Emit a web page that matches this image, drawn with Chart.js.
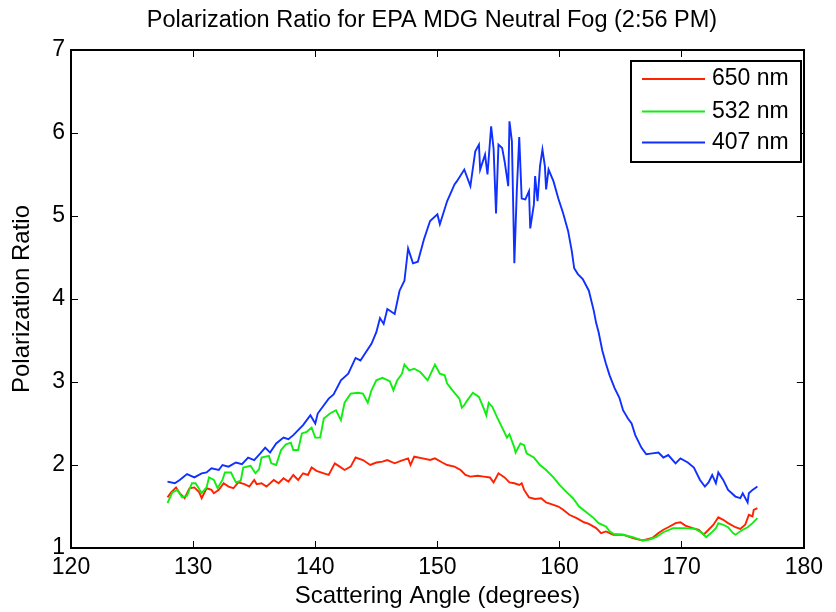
<!DOCTYPE html>
<html><head><meta charset="utf-8">
<script src="https://cdn.jsdelivr.net/npm/chart.js@4.4.0/dist/chart.umd.min.js"></script>
<style>html,body{margin:0;padding:0;background:#fff}canvas{display:block}</style>
</head><body>
<canvas id="c" width="836" height="612"></canvas>
<script>
// ---- data ----
const redAngle = [
127.9,128.2,128.6,128.9,129.3,129.7,130.1,130.5,130.7,131.1,
131.5,131.7,132.1,132.5,132.9,133.3,133.7,134.2,134.6,135.0,
135.2,135.6,136.0,136.6,137.0,137.4,137.8,138.2,138.6,139.0,
139.4,139.7,140.1,140.7,141.1,141.6,142.0,142.4,142.9,143.3,
143.9,144.5,145.0,145.5,145.9,146.5,147.0,147.6,147.8,148.1,
148.8,149.4,149.8,150.4,150.8,151.4,151.9,152.3,152.7,153.3,
153.8,154.3,154.6,155.0,155.5,155.9,156.3,156.7,156.9,157.1,
157.5,158.0,158.5,158.9,159.5,159.9,160.3,160.8,161.4,162.0,
162.4,163.0,163.4,163.8,164.1,164.4,165.2,166.0,166.8,167.6,
168.1,168.5,168.9,169.5,169.9,170.3,170.9,171.4,171.8,172.2,
172.6,173.0,173.4,173.8,174.4,174.8,175.2,175.5,175.8,175.9,176.2];
const redValue = [
1.61,1.67,1.73,1.66,1.60,1.72,1.73,1.67,1.60,1.72,
1.70,1.66,1.70,1.78,1.74,1.72,1.79,1.77,1.74,1.82,
1.77,1.78,1.74,1.82,1.78,1.84,1.80,1.88,1.82,1.90,
1.88,1.97,1.93,1.90,1.88,2.02,1.98,1.94,1.98,2.09,
2.06,2.00,2.03,2.04,2.06,2.02,2.05,2.08,2.00,2.10,
2.08,2.06,2.08,2.03,2.00,1.98,1.94,1.88,1.86,1.87,
1.86,1.85,1.79,1.90,1.85,1.79,1.78,1.76,1.78,1.70,
1.61,1.59,1.60,1.55,1.52,1.50,1.46,1.40,1.36,1.31,
1.29,1.24,1.18,1.20,1.18,1.16,1.16,1.12,1.09,1.12,
1.18,1.22,1.25,1.30,1.31,1.27,1.24,1.22,1.16,1.22,
1.28,1.37,1.34,1.30,1.25,1.23,1.28,1.40,1.38,1.46,1.48];

const greenAngle = [
127.9,128.3,128.7,129.1,129.5,129.9,130.2,130.7,131.1,131.3,
131.7,132.0,132.4,132.6,133.1,133.5,133.9,134.1,134.7,135.1,
135.4,135.6,136.2,136.4,136.8,137.2,137.6,138.0,138.2,138.6,
138.9,139.3,139.7,140.0,140.4,140.7,141.2,141.7,142.1,142.4,
142.9,143.5,143.9,144.3,144.6,145.0,145.5,146.1,146.4,146.7,
147.1,147.3,147.7,148.1,148.6,149.2,149.8,150.2,150.6,150.8,
151.4,151.8,152.0,152.2,152.4,152.9,153.4,153.8,154.0,154.2,
154.5,154.9,155.3,155.7,155.9,156.3,156.4,156.8,157.1,157.3,
157.9,158.4,158.9,159.5,160.0,160.6,161.1,161.6,162.2,162.8,
163.2,163.8,164.1,164.4,165.2,166.0,166.8,167.3,167.9,168.5,
169.3,170.3,171.1,171.7,172.0,172.4,172.8,173.0,173.4,173.8,
174.2,174.4,175.0,175.4,175.8,176.2];
const greenValue = [
1.54,1.67,1.70,1.61,1.63,1.78,1.78,1.66,1.73,1.85,
1.82,1.72,1.82,1.91,1.91,1.79,1.81,1.97,1.99,1.90,
1.95,2.09,2.11,2.02,2.00,2.18,2.25,2.27,2.18,2.18,
2.38,2.40,2.45,2.33,2.33,2.56,2.62,2.66,2.54,2.75,
2.86,2.87,2.86,2.75,2.90,3.02,3.05,3.01,2.90,3.02,
3.10,3.21,3.14,3.16,3.12,3.02,3.21,3.10,3.08,2.98,
2.87,2.80,2.69,2.72,2.77,2.87,2.82,2.68,2.60,2.75,
2.70,2.57,2.45,2.33,2.37,2.21,2.15,2.26,2.24,2.14,
2.09,2.00,1.94,1.85,1.76,1.67,1.60,1.50,1.43,1.36,
1.30,1.26,1.20,1.17,1.16,1.13,1.09,1.10,1.13,1.19,
1.24,1.24,1.23,1.18,1.13,1.18,1.24,1.30,1.28,1.25,
1.18,1.16,1.22,1.25,1.30,1.36];

const blueAngle = [
127.9,128.5,128.9,129.5,130.1,130.7,131.1,131.5,132.1,132.4,
132.9,133.5,134.0,134.5,135.0,135.5,135.9,136.3,136.8,137.4,
137.8,138.2,138.6,139.0,139.6,140.0,140.2,140.7,141.1,141.5,
142.1,142.7,143.3,143.7,144.1,144.6,145.0,145.3,145.6,145.9,
146.5,146.9,147.3,147.6,148.0,148.4,148.9,149.4,150.0,150.2,
150.8,151.4,151.6,152.2,152.7,153.1,153.4,153.5,153.9,154.1,
154.4,154.6,154.8,155.0,155.3,155.5,155.8,155.9,156.1,156.3,
156.5,156.7,156.9,157.2,157.5,157.6,157.9,158.0,158.2,158.4,
158.6,158.8,158.9,159.1,159.5,159.9,160.3,160.7,161.0,161.2,
161.5,161.9,162.4,162.8,163.0,163.2,163.5,163.8,164.1,164.5,
164.9,165.2,165.6,165.9,166.2,166.7,167.1,167.6,168.1,168.5,
168.9,169.5,169.9,170.5,171.0,171.5,171.9,172.2,172.5,172.8,
173.0,173.4,173.8,174.4,174.8,175.0,175.4,175.5,175.8,176.2];
const blueValue = [
1.80,1.78,1.82,1.89,1.85,1.90,1.91,1.96,1.94,2.00,
1.98,2.03,2.01,2.09,2.06,2.14,2.21,2.15,2.26,2.33,
2.31,2.36,2.42,2.48,2.60,2.50,2.62,2.72,2.80,2.85,
3.02,3.10,3.29,3.26,3.35,3.46,3.60,3.77,3.70,3.88,
3.82,4.10,4.22,4.61,4.43,4.45,4.72,4.94,5.02,4.90,
5.18,5.38,5.42,5.56,5.36,5.78,5.86,5.56,5.74,5.50,
6.08,5.81,5.03,5.86,5.82,5.66,5.36,6.14,5.90,4.43,
5.30,5.95,5.21,5.20,5.30,4.85,5.14,5.48,5.18,5.60,
5.80,5.60,5.32,5.56,5.42,5.21,5.03,4.82,4.58,4.37,
4.30,4.24,4.10,3.86,3.71,3.60,3.38,3.22,3.08,2.93,
2.81,2.66,2.56,2.50,2.36,2.21,2.13,2.14,2.15,2.09,
2.12,2.02,2.08,2.03,1.97,1.82,1.74,1.79,1.88,1.78,
1.91,1.82,1.70,1.62,1.60,1.66,1.55,1.66,1.70,1.74];

const seriesLabels = ['650 nm', '532 nm', '407 nm'];
const xTickValues = [120, 130, 140, 150, 160, 170, 180];
const yTickValues = [1, 2, 3, 4, 5, 6, 7];
const chartTitle = 'Polarization Ratio for EPA MDG Neutral Fog (2:56 PM)';
const xTitle = 'Scattering Angle (degrees)';
const yTitle = 'Polarization Ratio';

// ---- styling ----
const FONT = "'Liberation Sans', Arial, Helvetica, sans-serif";
const COLORS = ['#ff2200', '#10ee10', '#1030ff'];
const BLACK = '#000000';

function pts(a, v) { return a.map((x, i) => ({ x: x, y: v[i] })); }

const boxedLegend = {
  id: 'boxedLegend',
  afterDraw(chart) {
    const ctx = chart.ctx;
    const L = 631, T = 61, W = 170, H = 101;
    ctx.save();
    ctx.fillStyle = '#ffffff';
    ctx.fillRect(L, T, W, H);
    ctx.lineWidth = 2;
    ctx.strokeStyle = BLACK;
    ctx.strokeRect(L, T, W, H);
    const rows = [79, 111.5, 142.5];
    chart.data.datasets.forEach((ds, i) => {
      const y = rows[i];
      ctx.strokeStyle = ds.borderColor;
      ctx.lineWidth = 1.8;
      ctx.beginPath(); ctx.moveTo(642, y); ctx.lineTo(705, y); ctx.stroke();
      ctx.fillStyle = BLACK;
      ctx.font = '23px ' + FONT;
      ctx.textAlign = 'left';
      ctx.textBaseline = 'middle';
      ctx.fillText(ds.label, 712, y);
    });
    ctx.restore();
  }
};

const tickGrid = { drawOnChartArea: false, drawTicks: true, tickLength: -7, color: BLACK, lineWidth: 1 };
const axisBorder = { display: true, color: BLACK, width: 2 };

new Chart(document.getElementById('c'), {
  type: 'line',
  data: {
    datasets: [
      { label: seriesLabels[0], data: pts(redAngle, redValue), borderColor: COLORS[0], order: 3 },
      { label: seriesLabels[1], data: pts(greenAngle, greenValue), borderColor: COLORS[1], order: 2 },
      { label: seriesLabels[2], data: pts(blueAngle, blueValue), borderColor: COLORS[2], order: 1 }
    ]
  },
  options: {
    responsive: false,
    animation: false,
    devicePixelRatio: 1,
    layout: { padding: { left: 28, right: 0, top: 0, bottom: 0 } },
    elements: {
      line: { borderWidth: 1.9, tension: 0, fill: false },
      point: { radius: 0, hoverRadius: 0 }
    },
    plugins: {
      legend: { display: false },
      tooltip: { enabled: false },
      title: {
        display: true, text: chartTitle, color: BLACK,
        font: { family: FONT, size: 23.5, weight: 'normal' },
        padding: { top: 6, bottom: 15.8 }
      }
    },
    scales: {
      x: {
        type: 'linear', position: 'bottom', min: 120, max: 180,
        afterBuildTicks: s => { s.ticks = xTickValues.map(v => ({ value: v })); },
        ticks: { color: BLACK, font: { family: FONT, size: 23 }, padding: 13, maxRotation: 0, autoSkip: false },
        grid: tickGrid, border: axisBorder,
        title: { display: true, text: xTitle, color: BLACK, font: { family: FONT, size: 24 }, padding: { top: 0, bottom: 1.6 } },
        afterFit: s => { s.height = 64; }
      },
      x2: {
        type: 'linear', position: 'top', min: 120, max: 180,
        afterBuildTicks: s => { s.ticks = xTickValues.map(v => ({ value: v })); },
        ticks: { display: false },
        grid: tickGrid, border: axisBorder,
        afterFit: s => { s.height = 0; }
      },
      y: {
        type: 'linear', position: 'left', min: 1, max: 7,
        afterBuildTicks: s => { s.ticks = yTickValues.map(v => ({ value: v })); },
        ticks: { color: BLACK, font: { family: FONT, size: 23 }, padding: 13 },
        grid: tickGrid, border: axisBorder,
        title: { display: true, text: yTitle, color: BLACK, font: { family: FONT, size: 24 }, padding: { top: -20.4, bottom: 0 } },
        afterFit: s => { s.width = 43; }
      },
      y2: {
        type: 'linear', position: 'right', min: 1, max: 7,
        afterBuildTicks: s => { s.ticks = yTickValues.map(v => ({ value: v })); },
        ticks: { display: false },
        grid: tickGrid, border: axisBorder,
        afterFit: s => { s.width = 27; }
      }
    }
  },
  plugins: [boxedLegend]
});
</script>
</body></html>
